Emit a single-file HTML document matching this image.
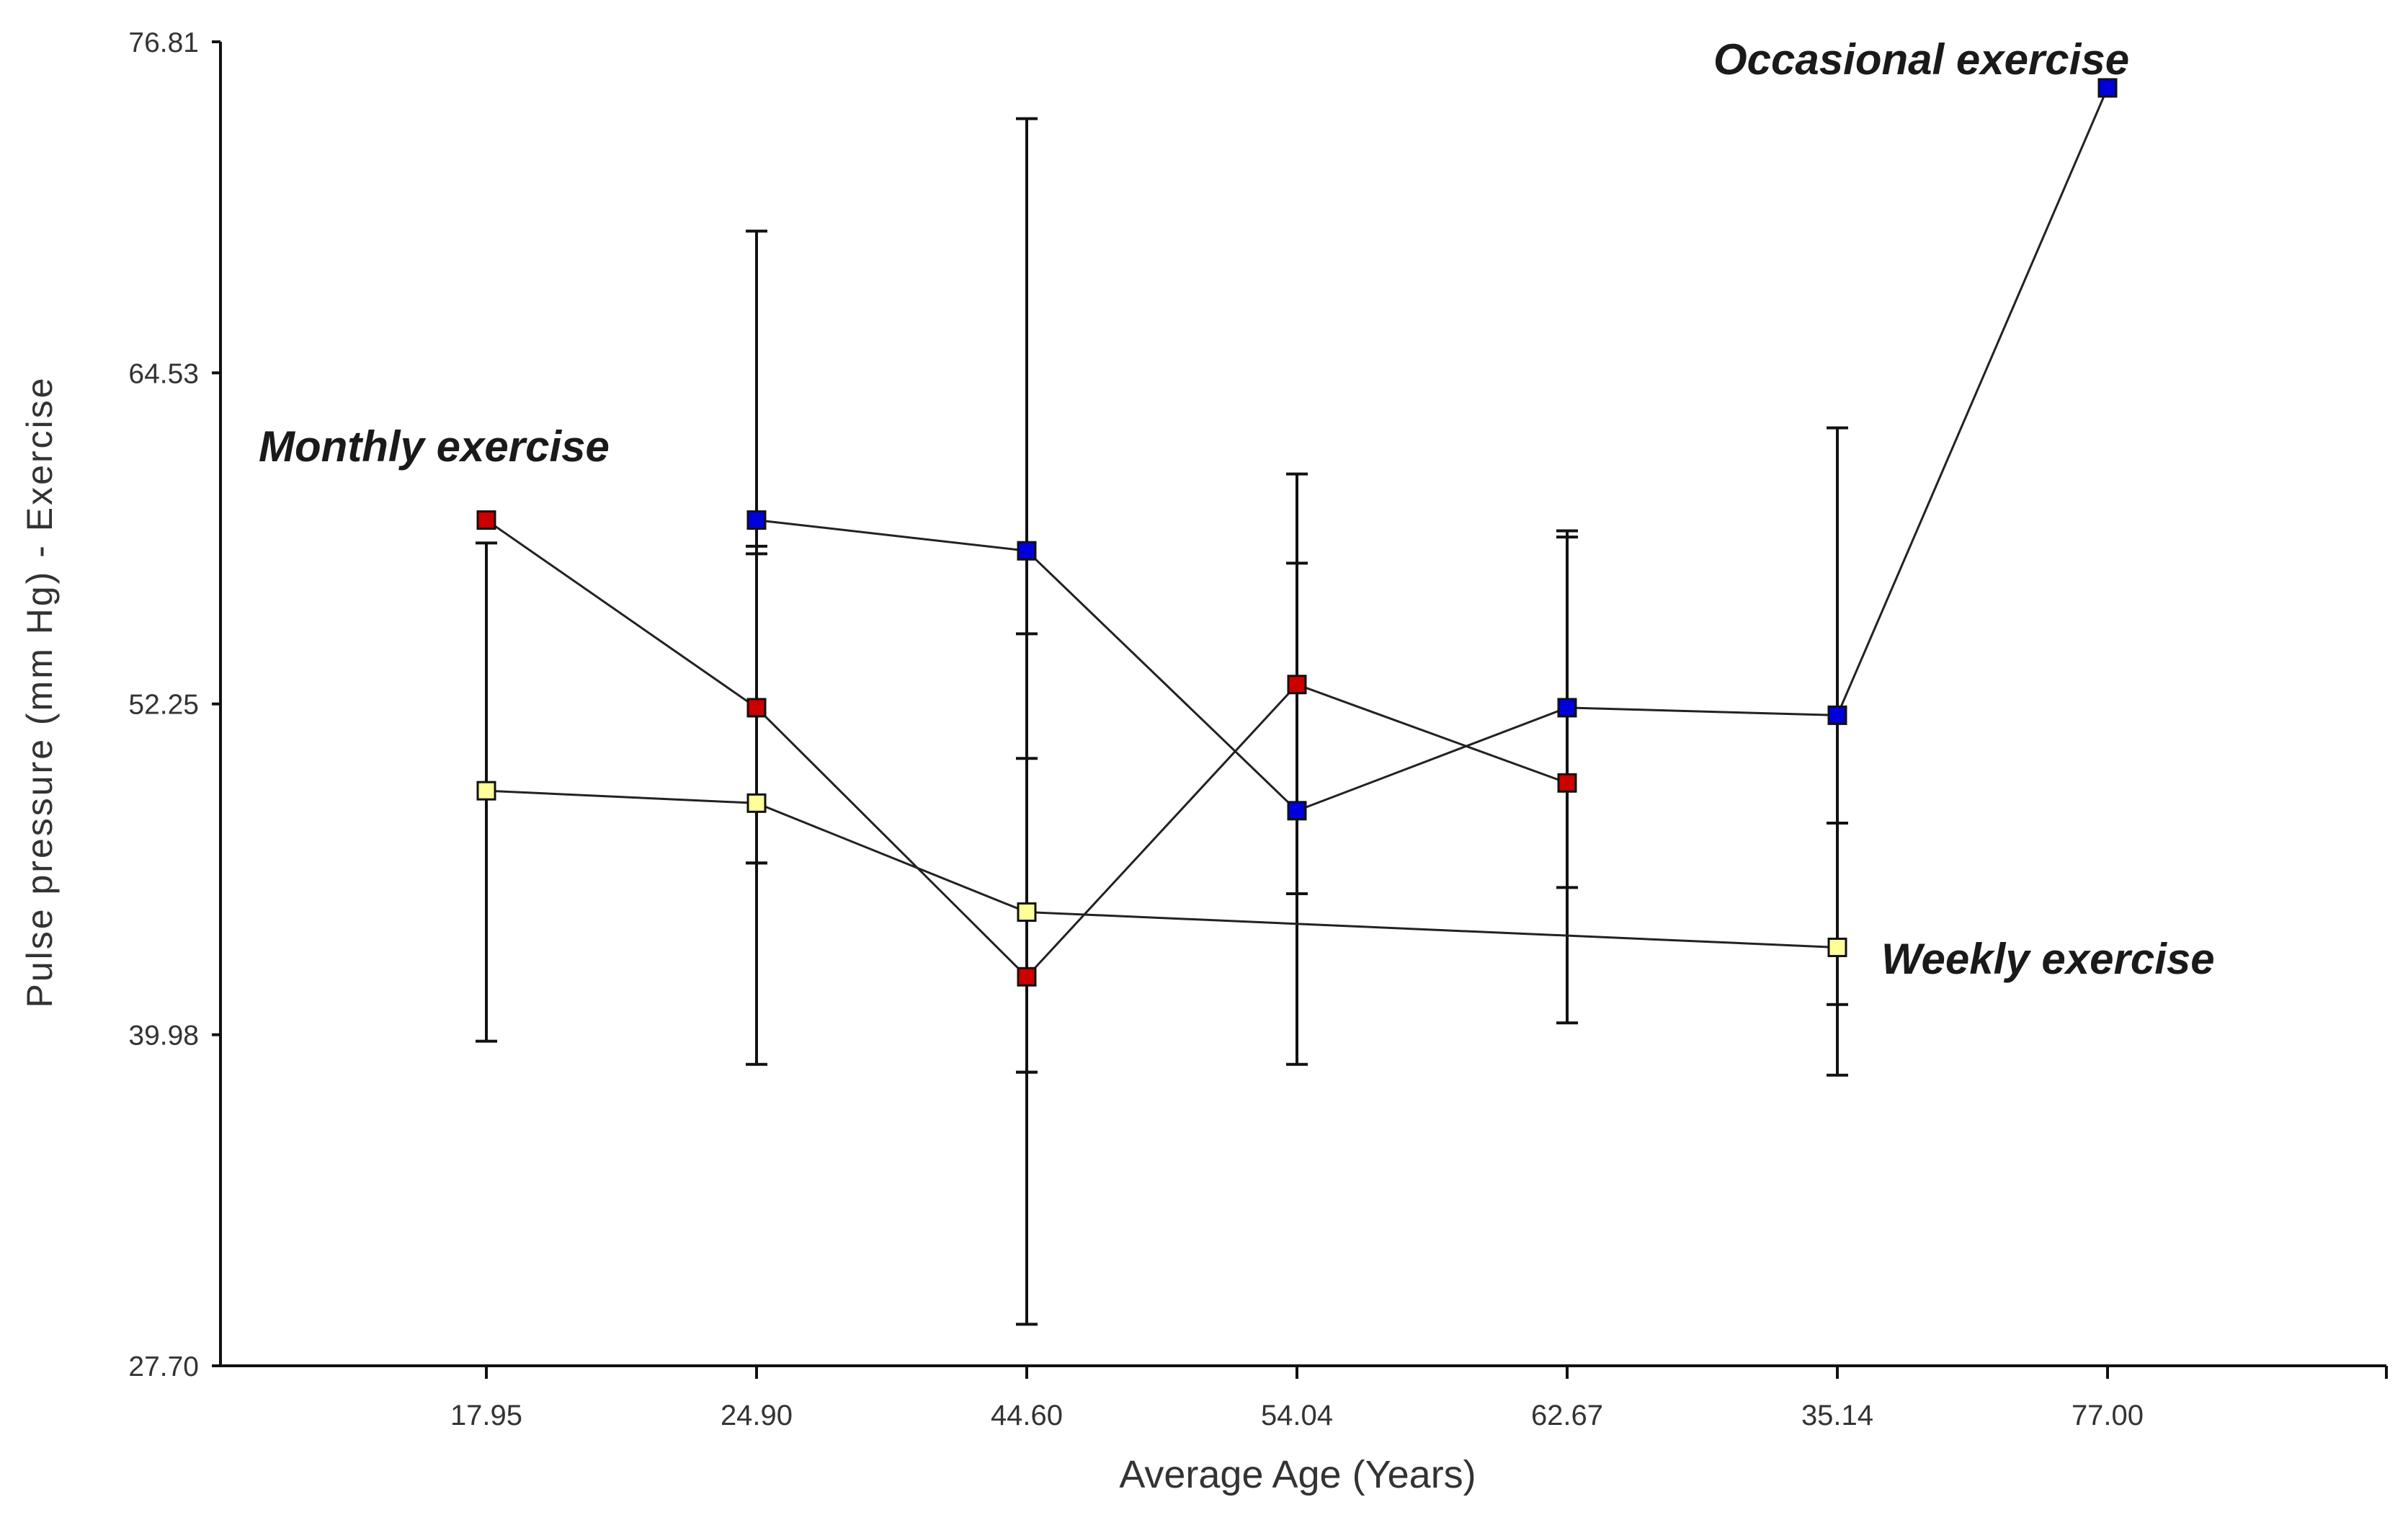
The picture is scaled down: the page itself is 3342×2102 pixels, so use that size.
<!DOCTYPE html>
<html><head><meta charset="utf-8"><style>
html,body{margin:0;padding:0;background:#fff;}
svg{display:block;font-family:"Liberation Sans",sans-serif;}
</style></head><body>
<svg id="chart" width="3342" height="2102" viewBox="0 0 3342 2102">
<g id="axes"></g>
<g id="errs"></g>
<g id="lines"></g>
<g id="marks"></g>
<text x="72" y="960" transform="rotate(-90 72 960)" text-anchor="middle" font-size="50" letter-spacing="3" fill="#333">Pulse pressure (mm Hg) - Exercise</text>
<text x="1801" y="2064" text-anchor="middle" font-size="54" fill="#333">Average Age (Years)</text>
<text x="359" y="640" font-size="60" font-weight="bold" font-style="italic" fill="#1a1a1a">Monthly exercise</text>
<text x="2378" y="103" font-size="60" font-weight="bold" font-style="italic" fill="#1a1a1a">Occasional exercise</text>
<text x="2611" y="1351" font-size="60" font-weight="bold" font-style="italic" fill="#1a1a1a">Weekly exercise</text>
</svg>
<script>
const categories = ["17.95","24.90","44.60","54.04","62.67","35.14","77.00"];
const yTicks = [27.70, 39.98, 52.25, 64.53, 76.81];
const yTickLabels = ["27.70","39.98","52.25","64.53","76.81"];
const monthly = [59.07, 52.11, 42.13, 52.97, 49.32, null, null];
const occasional = [null, 59.07, 57.93, 48.29, 52.11, 51.83, 75.10];
const weekly = [49.03, 48.57, 44.53, null, null, 43.22, null];
const errCat = [0, 1, 1, 1, 2, 2, 2, 3, 3, 4, 4, 5, 5];
const errHigh = [58.22, 69.79, 58.10, 57.82, 73.96, 54.85, 50.23, 60.78, 57.47, 58.67, 58.44, 62.49, 47.83];
const errLow = [39.74, 38.88, 46.35, 46.35, 29.24, 38.59, 38.59, 38.88, 45.21, 40.42, 45.44, 38.48, 41.10];

const NS = "http://www.w3.org/2000/svg";
const X0 = 306, X1 = 3312, Y0 = 1895, Y1 = 58, YMIN = 27.70, YMAX = 76.81;
const firstX = 675, stepX = 375;
function xs(i){ return firstX + i*stepX; }
function ys(v){ return Y0 - (v - YMIN)/(YMAX - YMIN)*(Y0 - Y1); }
function mk(tag, attrs, parent){ const e=document.createElementNS(NS,tag); for(const k in attrs) e.setAttribute(k,attrs[k]); parent.appendChild(e); return e; }

const axes = document.getElementById('axes');
let e = mk('line',{x1:X0,y1:Y1,x2:X0,y2:Y0,stroke:'#111','stroke-width':4},axes);


e = mk('line',{x1:X0,y1:Y0,x2:X1,y2:Y0,stroke:'#111','stroke-width':4},axes);


e = mk('line',{x1:X1,y1:Y0,x2:X1,y2:Y0+18,stroke:'#111','stroke-width':4},axes);


yTicks.forEach((v,i)=>{
  const y = ys(v);
  const t = mk('line',{x1:X0-12,y1:y,x2:X0,y2:y,stroke:'#111','stroke-width':4},axes);
  
  
  const l = mk('text',{x:X0-30,y:y+14,'text-anchor':'end','font-size':39,fill:'#333'},axes);
  l.textContent = yTickLabels[i];
  
  
});
categories.forEach((c,i)=>{
  const x = xs(i);
  const t = mk('line',{x1:x,y1:Y0,x2:x,y2:Y0+18,stroke:'#111','stroke-width':4},axes);
  
  
  const l = mk('text',{x:x,y:1977,'text-anchor':'middle','font-size':40,fill:'#333'},axes);
  l.textContent = c;
  
  
});

const errs = document.getElementById('errs');
errCat.forEach((ci,k)=>{
  const x = xs(ci), yh = ys(errHigh[k]), yl = ys(errLow[k]);
  const g = mk('g',{},errs);
  
  
  mk('line',{x1:x,y1:yh,x2:x,y2:yl,stroke:'#111','stroke-width':4},g);
  mk('line',{x1:x-15,y1:yh,x2:x+15,y2:yh,stroke:'#111','stroke-width':4},g);
  mk('line',{x1:x-15,y1:yl,x2:x+15,y2:yl,stroke:'#111','stroke-width':4},g);
});

const lines = document.getElementById('lines'), marks = document.getElementById('marks');
function drawSeries(vals, fill, name){
  const pts = [];
  vals.forEach((v,i)=>{ if(v!==null) pts.push([xs(i), ys(v)]); });
  const p = mk('polyline',{points:pts.map(q=>q.join(',')).join(' '),fill:'none',stroke:'#222','stroke-width':3},lines);
  
  
  pts.forEach(q=>{
    const r = mk('rect',{x:q[0]-12,y:q[1]-12,width:24,height:24,fill:fill,stroke:'#111','stroke-width':3},marks);
    
    
  });
}
drawSeries(weekly,'#ffff99','weekly');
drawSeries(monthly,'#cc0000','monthly');
drawSeries(occasional,'#0000dd','occasional');
</script>
</body></html>
